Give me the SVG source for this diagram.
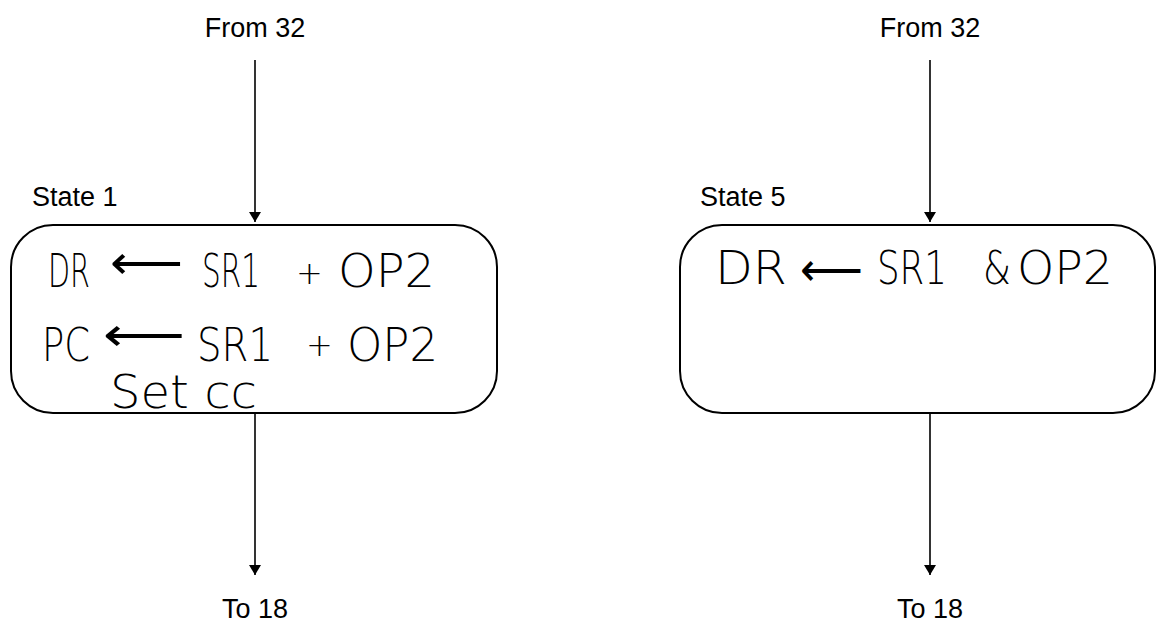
<svg xmlns="http://www.w3.org/2000/svg" width="1158" height="624" viewBox="0 0 1158 624">
  <style>
    .label { font-family: "Liberation Sans", Arial, sans-serif; font-size: 27px; fill: #000; }
    .hand { font-family: "DejaVu Sans", "Liberation Sans", sans-serif; font-weight: 200; font-size: 46px; fill: #000; }
    .plus { font-size: 32px; }
    .box { fill: #fff; stroke: #000; stroke-width: 2; }
    .wire { stroke: #000; stroke-width: 1.6; fill: none; marker-end: url(#head); }
  </style>
  <defs>
    <marker id="head" viewBox="0 0 10 14" refX="10" refY="7" markerWidth="10" markerHeight="14" markerUnits="userSpaceOnUse" orient="auto">
      <path d="M0,1 L10,7 L0,13 Z" fill="#000"/>
    </marker>
  </defs>
  <rect width="1158" height="624" fill="#fff"/>

  <!-- connectors -->
  <g id="connectors">
    <line class="wire" x1="255" y1="60" x2="255" y2="222"/>
    <line class="wire" x1="255" y1="413" x2="255" y2="575"/>
    <line class="wire" x1="930" y1="60" x2="930" y2="222"/>
    <line class="wire" x1="930" y1="413" x2="930" y2="575"/>
  </g>

  <!-- terminal labels -->
  <g id="labels">
    <text class="label" x="255" y="37" text-anchor="middle">From 32</text>
    <text class="label" x="255" y="618" text-anchor="middle">To 18</text>
    <text class="label" x="930" y="37" text-anchor="middle">From 32</text>
    <text class="label" x="930" y="618" text-anchor="middle">To 18</text>
  </g>

  <!-- state 1 -->
  <g id="state1">
    <text class="label" x="32" y="206">State 1</text>
    <rect class="box" x="11" y="225" width="486" height="188" rx="42" ry="42"/>
    <text class="hand" y="287">
      <tspan x="48" textLength="42" lengthAdjust="spacingAndGlyphs">DR</tspan>
      <tspan x="110" y="279" textLength="73" lengthAdjust="spacingAndGlyphs">⟵</tspan>
      <tspan x="202" y="287" textLength="58" lengthAdjust="spacingAndGlyphs">SR1</tspan>
      <tspan class="plus" x="296" y="284">+</tspan>
      <tspan x="338" y="287" textLength="97" lengthAdjust="spacingAndGlyphs">OP2</tspan>
    </text>
    <text class="hand" y="361">
      <tspan x="42" textLength="48" lengthAdjust="spacingAndGlyphs">PC</tspan>
      <tspan x="103" y="351" textLength="82" lengthAdjust="spacingAndGlyphs">⟵</tspan>
      <tspan x="197" y="361" textLength="76" lengthAdjust="spacingAndGlyphs">SR1</tspan>
      <tspan class="plus" x="306" y="356">+</tspan>
      <tspan x="347" y="361" textLength="91" lengthAdjust="spacingAndGlyphs">OP2</tspan>
    </text>
    <text class="hand" x="110" y="408" font-size="35" textLength="147" lengthAdjust="spacingAndGlyphs">Set cc</text>
  </g>

  <!-- state 5 -->
  <g id="state5">
    <text class="label" x="700" y="206">State 5</text>
    <rect class="box" x="680" y="225" width="475" height="188" rx="42" ry="42"/>
    <text class="hand" y="284">
      <tspan x="715" textLength="72" lengthAdjust="spacingAndGlyphs">DR</tspan>
      <tspan x="800" y="286" textLength="63" lengthAdjust="spacingAndGlyphs">⟵</tspan>
      <tspan x="877" y="284" textLength="70" lengthAdjust="spacingAndGlyphs">SR1</tspan>
      <tspan x="983" textLength="28" lengthAdjust="spacingAndGlyphs">&amp;</tspan>
      <tspan x="1017" textLength="96" lengthAdjust="spacingAndGlyphs">OP2</tspan>
    </text>
  </g>
</svg>
